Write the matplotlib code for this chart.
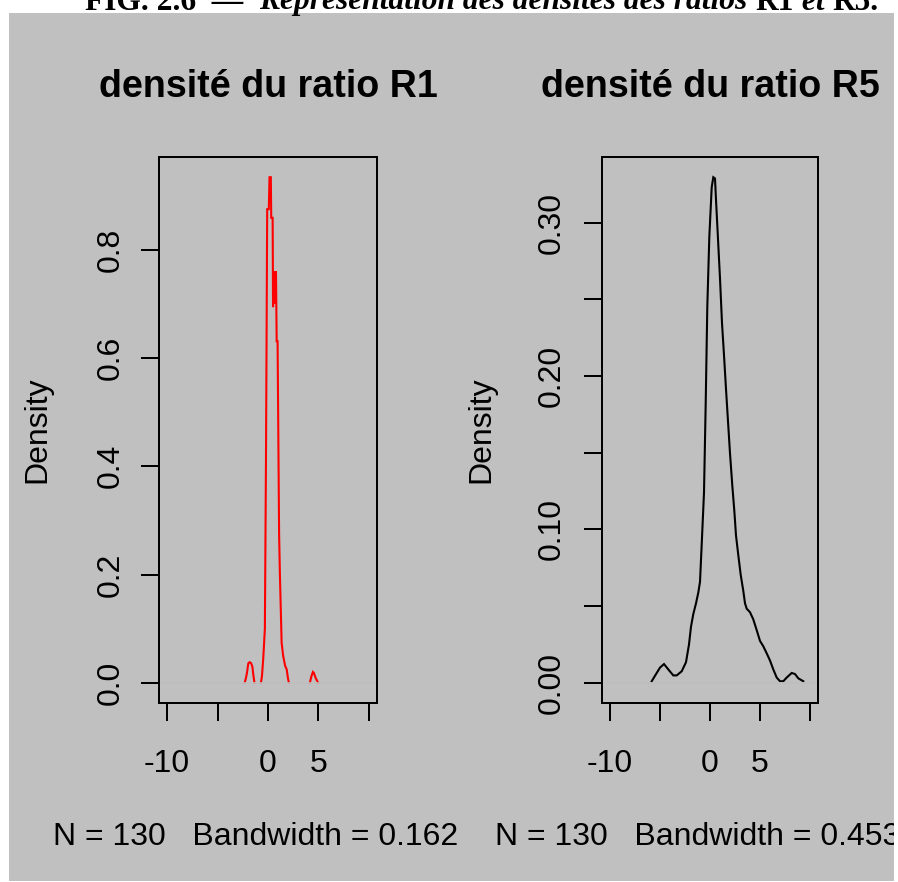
import matplotlib
matplotlib.use("Agg")
import matplotlib.pyplot as plt
from matplotlib.patches import Rectangle

# ---------------- data ----------------
r1_x = [-2.31, -2.17, -2.07, -1.95, -1.81, -1.67, -1.55, -1.45, -1.34, -0.70, -0.60, -0.47,
        -0.31, -0.20, -0.08, 0.08, 0.15, 0.28, 0.32, 0.46, 0.50, 0.56, 0.62, 0.68, 0.74, 0.79,
        0.86, 0.95, 1.10, 1.18, 1.35, 1.50, 1.70, 1.85, 1.98, 2.07, 4.15, 4.30, 4.45, 4.55,
        4.72, 4.96]
r1_y = [0.000, 0.010, 0.020, 0.036, 0.038, 0.036, 0.030, 0.014, 0.000, 0.000, 0.012, 0.045,
        0.100, 0.414, 0.875, 0.875, 0.934, 0.934, 0.859, 0.859, 0.694, 0.760, 0.700, 0.760,
        0.700, 0.760, 0.631, 0.631, 0.275, 0.200, 0.074, 0.050, 0.031, 0.025, 0.008, 0.000,
        0.000, 0.012, 0.020, 0.018, 0.009, 0.000]

r5_x = [-5.83, -5.33, -5.00, -4.60, -4.17, -3.67, -3.33, -2.83, -2.40, -2.10, -1.90, -1.67,
        -1.40, -1.17, -1.00, -0.83, -0.60, -0.43, -0.27, -0.07, 0.17, 0.33, 0.50, 0.60, 0.80,
        1.00, 1.20, 1.40, 1.60, 1.80, 2.00, 2.23, 2.43, 2.60, 2.83, 3.07, 3.33, 3.50, 3.67,
        4.00, 4.33, 4.67, 5.00, 5.33, 5.67, 6.00, 6.33, 6.67, 7.00, 7.33, 7.67, 8.17, 8.50,
        8.83, 9.33]
r5_y = [0.0010, 0.0064, 0.0099, 0.0122, 0.0087, 0.0048, 0.0048, 0.0075, 0.0134, 0.0250,
        0.0366, 0.0448, 0.0518, 0.0588, 0.0658, 0.0902, 0.1240, 0.1822, 0.2450, 0.2904,
        0.3230, 0.3296, 0.3288, 0.3149, 0.2893, 0.2636, 0.2345, 0.2136, 0.1915, 0.1705,
        0.1496, 0.1286, 0.1123, 0.0960, 0.0832, 0.0704, 0.0599, 0.0518, 0.0483, 0.0460,
        0.0413, 0.0343, 0.0273, 0.0238, 0.0192, 0.0145, 0.0087, 0.0034, 0.0010, 0.0010,
        0.0034, 0.0064, 0.0057, 0.0029, 0.0010]

titles = ["densité du ratio R1", "densité du ratio R5"]
xlabels = ["N = 130   Bandwidth = 0.162", "N = 130   Bandwidth = 0.453"]
ylabel = "Density"
x_ticks = [-10, -5, 0, 5, 10]
x_ticklabels = ["-10", "", "0", "5", ""]
r1_yticks = [0.0, 0.2, 0.4, 0.6, 0.8]
r1_yticklabels = ["0.0", "0.2", "0.4", "0.6", "0.8"]
r5_yticks = [0.00, 0.05, 0.10, 0.15, 0.20, 0.25, 0.30]
r5_yticklabels = ["0.00", "", "0.10", "", "0.20", "", "0.30"]
x_range = (-10, 10)
caption_pieces = [("FIG. 2.6", "normal"), ("  —  ", "normal"),
                  ("Représentation des densités des ratios ", "italic"),
                  ("R1", "normal"), (" et ", "italic"), ("R5.", "normal")]

# ---------------- layout ----------------
W, H, DPI = 898, 882, 100
BG = "#c0c0c0"
FONT = "Liberation Sans"
plt.rcParams["font.family"] = [FONT, "DejaVu Sans"]

fig = plt.figure(figsize=(W / DPI, H / DPI), dpi=DPI, facecolor="white")

# gray device background
bg_rect = Rectangle((9 / W, 1 - 881 / H), (894 - 9) / W, (881 - 13) / H,
                    transform=fig.transFigure, facecolor=BG, edgecolor="none", zorder=-10)
fig.patches.append(bg_rect)


def rect(x0, y0, x1, y1):
    return [x0 / W, 1 - y1 / H, (x1 - x0) / W, (y1 - y0) / H]


def r_lim(lo, hi):
    d = (hi - lo) * 0.04
    return lo - d, hi + d


def runs(xs, ys):
    """Split the curve where it lies flat on zero (hidden under R's zero line)."""
    out, cx, cy = [], [xs[0]], [ys[0]]
    for i in range(1, len(xs)):
        if ys[i] == 0 and ys[i - 1] == 0:
            out.append((cx, cy))
            cx, cy = [xs[i]], [ys[i]]
        else:
            cx.append(xs[i])
            cy.append(ys[i])
    out.append((cx, cy))
    return out


PX = 0.72  # points per pixel
panels = [
    dict(box=rect(159, 157, 377, 703), x=r1_x, y=r1_y, color="#ff0000",
         yt=r1_yticks, ytl=r1_yticklabels, title=titles[0], xl=xlabels[0], ypad=11.0),
    dict(box=rect(602, 157, 818, 703), x=r5_x, y=r5_y, color="#000000",
         yt=r5_yticks, ytl=r5_yticklabels, title=titles[1], xl=xlabels[1], ypad=12.3),
]

for p in panels:
    ax = fig.add_axes(p["box"], zorder=1)
    ax.set_facecolor("none")
    for cx, cy in runs(p["x"], p["y"]):
        ax.plot(cx, cy, color=p["color"], lw=1.5, zorder=2, solid_joinstyle="miter")
    # R's zero line, drawn over the curve
    ax.axhline(0, color="#bebebe", lw=1.2, zorder=3)
    ax.set_xlim(*r_lim(*x_range))
    ax.set_ylim(*r_lim(0, max(p["y"])))
    for s in ax.spines.values():
        s.set_linewidth(2 * PX)
        s.set_color("black")
        s.set_zorder(4)
    ax.set_xticks(x_ticks)
    ax.set_xticklabels(x_ticklabels)
    ax.set_yticks(p["yt"])
    ax.set_yticklabels(p["ytl"], rotation=90, va="center")
    ax.tick_params(axis="both", direction="out", length=18 * PX, width=2 * PX,
                   labelsize=23, colors="black")
    ax.tick_params(axis="x", pad=20.3)
    ax.tick_params(axis="y", pad=p["ypad"])
    ax.set_title(p["title"], fontsize=27.1, fontweight="bold", pad=43.2)
    xl = ax.set_xlabel(p["xl"], fontsize=23)
    xl.set_clip_path(bg_rect)
    ax.xaxis.set_label_coords(0.445, -0.218)
    ax.set_ylabel(ylabel, fontsize=23)
    ax.yaxis.set_label_coords(-0.49, 0.5)

# caption (cut off at the top as in the reference)
fig.canvas.draw()
renderer = fig.canvas.get_renderer()


def place_caption(fs, x_start, draw=True):
    x = x_start
    made = []
    for s, style in caption_pieces:
        t = fig.text(x / W, (H - 9.5) / H, s, fontsize=fs, fontweight="bold",
                     fontstyle=style, family=["Liberation Serif", "DejaVu Serif"],
                     ha="left", va="baseline")
        bb = t.get_window_extent(renderer)
        x = bb.x1
        made.append(t)
    if not draw:
        for t in made:
            t.remove()
    return x - x_start


w0 = place_caption(20, 85, draw=False)
fs = 20 * (880 - 85) / w0
place_caption(fs, 85, draw=True)

fig.savefig("out.png", dpi=DPI, facecolor="white")
